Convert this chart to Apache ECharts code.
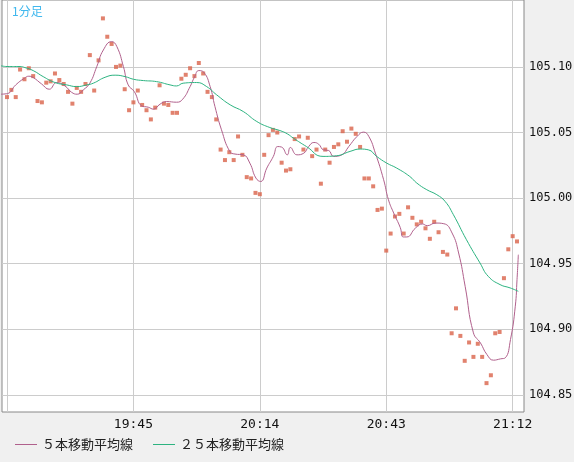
<!DOCTYPE html>
<html>
<head>
<meta charset="utf-8">
<script src="https://cdn.jsdelivr.net/npm/echarts@6/dist/echarts.min.js"></script>
<style>
html,body{margin:0;padding:0;background:#f0f0f0;}
#chart{width:574px;height:462px;}
</style>
</head>
<body>
<div id="chart"></div>
<script>
// minute 0 = 19:16, one price per minute
var startMinutes = 19 * 60 + 16;
var prices = [
  105.077, 105.0825, 105.077, 105.098, 105.0906, 105.099, 105.093, 105.074, 105.073, 105.088,
  105.089, 105.095, 105.090, 105.087, 105.081, 105.072, 105.084, 105.081, 105.087, 105.109,
  105.082, 105.105, 105.137, 105.123, 105.1175, 105.100, 105.101, 105.083, 105.067, 105.073,
  105.082, 105.071, 105.067, 105.060, 105.069, 105.086, 105.072, 105.071, 105.065, 105.065,
  105.091, 105.094, 105.099, 105.093, 105.103, 105.095, 105.081, 105.077, 105.060, 105.037,
  105.029, 105.035, 105.029, 105.047, 105.033, 105.016, 105.015, 105.004, 105.003, 105.033,
  105.048, 105.052, 105.050, 105.027, 105.021, 105.022, 105.045, 105.047, 105.037, 105.046,
  105.032, 105.037, 105.011, 105.037, 105.027, 105.039, 105.041, 105.051, 105.043, 105.053,
  105.049, 105.039, 105.015, 105.015, 105.009, 104.991, 104.992, 104.960, 104.973, 104.986,
  104.988, 104.973, 104.993, 104.985, 104.980, 104.982, 104.977, 104.969, 104.982, 104.974,
  104.959, 104.957, 104.897, 104.916, 104.895, 104.876, 104.890, 104.879, 104.889, 104.879,
  104.859, 104.865, 104.897, 104.898, 104.939, 104.961, 104.971, 104.967
];
// moving averages: [minute, value]
var ma5 = [
  [-1.6,105.0792],[0.1,105.0797],[2.0,105.0863],[4.0,105.0914],[5.0,105.0929],[6.0,105.0919],
  [7.9,105.0871],[9.7,105.0830],[11.4,105.0881],[13.3,105.0855],[14.8,105.0807],[16.1,105.0792],
  [17.5,105.0825],[19.0,105.0876],[20.6,105.1003],[22.1,105.1129],[24.0,105.1193],[25.2,105.1155],
  [26.7,105.1003],[27.8,105.0863],[29.2,105.0812],[30.9,105.0703],[32.4,105.0693],[33.6,105.0678],
  [35.1,105.0716],[36.6,105.0736],[38.9,105.0731],[40.3,105.0754],[42.0,105.0850],[43.0,105.0922],
  [44.0,105.0972],[45.2,105.0957],[46.6,105.0850],[47.7,105.0698],[49.2,105.0521],[51.1,105.0356],
  [52.3,105.0336],[54.2,105.0330],[55.7,105.0267],[57.1,105.0153],[58.2,105.0127],[59.6,105.0229],
  [61.1,105.0318],[62.1,105.0393],[63.0,105.0389],[64.3,105.0330],[65.0,105.0386],[66.5,105.0330],
  [68.1,105.0343],[69.2,105.0393],[70.4,105.0424],[71.5,105.0411],[72.6,105.0368],[73.8,105.0363],
  [74.9,105.0318],[76.8,105.0330],[78.4,105.0393],[80.3,105.0470],[81.8,105.0503],[83.0,105.0470],
  [84.5,105.0343],[86.4,105.0140],[87.5,104.9988],[88.7,104.9887],[90.2,104.9777],[90.9,104.9704],
  [91.7,104.9704],[93.7,104.9772],[95.3,104.9803],[96.4,104.9790],[98.3,104.9810],[100.2,104.9805],
  [102.1,104.9734],[103.6,104.9582],[105.1,104.9328],[107.0,104.8973],[108.6,104.8897],[110.1,104.8808],
  [111.6,104.8765],[113.2,104.8775],[114.3,104.8783],[115.5,104.8922],[116.6,104.9176],[117.0,104.9379],
  [117.3,104.9569]
];
var ma25 = [
  [-1.6,105.1010],[0.0,105.1003],[3.0,105.1003],[4.1,105.0995],[6.0,105.0972],[8.3,105.0926],
  [11.0,105.0881],[13.7,105.0863],[16.0,105.0850],[18.3,105.0863],[19.8,105.0876],[22.5,105.0921],
  [24.8,105.0937],[27.1,105.0926],[29.0,105.0906],[31.3,105.0896],[34.3,105.0888],[37.4,105.0863],
  [38.9,105.0855],[40.4,105.0876],[43.5,105.0881],[45.8,105.0850],[48.1,105.0787],[51.2,105.0711],
  [54.2,105.0660],[57.3,105.0584],[60.3,105.0538],[62.6,105.0515],[64.3,105.0490],[65.7,105.0457],
  [68.7,105.0393],[72.5,105.0318],[75.6,105.0323],[78.7,105.0356],[81.0,105.0374],[82.9,105.0368],
  [84.8,105.0318],[87.1,105.0267],[89.4,105.0229],[92.4,105.0165],[94.0,105.0115],[96.3,105.0064],
  [98.6,105.0026],[100.5,104.9975],[102.4,104.9874],[105.4,104.9683],[108.5,104.9506],[110.4,104.9404],
  [113.1,104.9341],[115.4,104.9316],[117.3,104.9290]
];
var timeTicks = [29, 58, 87, 116];
var gridTicks = [0, 29, 58, 87, 116];
var priceTicks = [104.85, 104.90, 104.95, 105.00, 105.05, 105.10];

function fmtTime(m) {
  var t = startMinutes + Math.round(m);
  var h = Math.floor(t / 60), mm = t % 60;
  return h + ':' + (mm < 10 ? '0' : '') + mm;
}

var chart = echarts.init(document.getElementById('chart'));
var mono = 'DejaVu Sans Mono';
chart.setOption({
  animation: false,
  backgroundColor: '#f0f0f0',
  graphic: [
    { type: 'text', left: 12, top: 5, z: 10, style: { text: '1分足', fill: '#40b8ee', fontSize: 12, fontFamily: 'Noto Sans CJK JP' } }
  ],
  grid: { left: 2, right: 50, top: 0, bottom: 50, outerBoundsMode: 'none', containLabel: false, show: true, borderColor: '#888', borderWidth: 1, backgroundColor: '#fff' },
  legend: {
    left: 10, bottom: 6, itemWidth: 22, itemHeight: 1, itemGap: 20, icon: 'rect',
    textStyle: { fontSize: 13, color: '#222', fontFamily: 'Noto Sans CJK JP' },
    data: ['５本移動平均線', '２５本移動平均線']
  },
  xAxis: {
    type: 'value', min: -1.15, max: 118.6,
    axisLine: { show: false },
    splitLine: { show: true, lineStyle: { color: '#ccc' } },
    axisLabel: { customValues: timeTicks, formatter: fmtTime, fontFamily: mono, fontSize: 13, color: '#111', margin: 6 },
    axisTick: { show: false, customValues: gridTicks }
  },
  yAxis: {
    type: 'value', position: 'right', min: 104.837, max: 105.151,
    axisLine: { show: false },
    splitLine: { show: true, lineStyle: { color: '#ccc' } },
    axisLabel: { customValues: priceTicks, formatter: function (v) { return v.toFixed(2); }, fontFamily: mono, fontSize: 12, color: '#111', margin: 5 },
    axisTick: { show: false, customValues: priceTicks }
  },
  series: [
    {
      type: 'scatter', symbol: 'rect', symbolSize: 4, itemStyle: { color: '#d9634a' }, silent: true,
      data: prices.map(function (v, i) { return [i, v]; })
    },
    {
      name: '５本移動平均線', type: 'line', smooth: true, showSymbol: false, data: ma5,
      lineStyle: { width: 1, color: '#b0608c' }, itemStyle: { color: '#b0608c' }
    },
    {
      name: '２５本移動平均線', type: 'line', smooth: true, showSymbol: false, data: ma25,
      lineStyle: { width: 1, color: '#2db380' }, itemStyle: { color: '#2db380' }
    }
  ]
});
</script>
</body>
</html>
